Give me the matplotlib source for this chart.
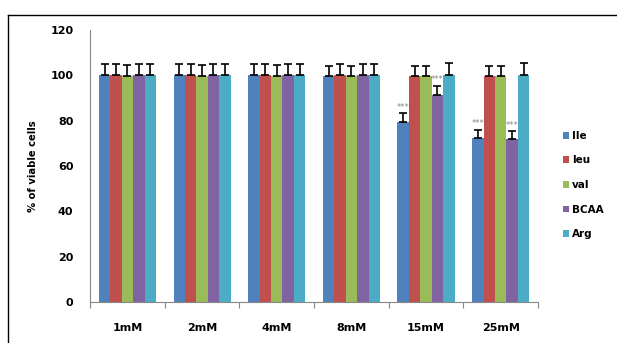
import numpy as np
import matplotlib.pyplot as plt
from matplotlib.lines import Line2D

plt.rcParams['font.family'] = ['DejaVu Sans']

categories = ['1mM', '2mM', '4mM', '8mM', '15mM', '25mM']
series = ['Ile', 'leu', 'val', 'BCAA', 'Arg']
colors = ['#4F81BD', '#C0504D', '#9BBB59', '#8064A2', '#4BACC6']

ile = [100, 100, 100, 99.5, 79.4, 72.5]
leu = [100, 100, 100, 100, 99.5, 99.5]
val = [99.6, 99.6, 99.6, 99.5, 99.5, 99.5]
bcaa = [100, 100, 100, 100, 91.2, 72.0]
arg = [100, 100, 100, 100, 100, 100]

ile_err = [5.2, 5.2, 5.2, 4.8, 3.8, 3.4]
leu_err = [5.2, 5.2, 5.2, 5.2, 4.8, 4.8]
val_err = [4.8, 4.8, 4.8, 4.8, 4.8, 4.8]
bcaa_err = [5.2, 5.2, 5.2, 5.2, 4.1, 3.3]
arg_err = [5.2, 5.2, 5.2, 5.2, 5.3, 5.3]

# significance marks: (category index, series index)
signif = [(4, 0), (4, 3), (5, 0), (5, 3)]

values = [ile, leu, val, bcaa, arg]
errors = [ile_err, leu_err, val_err, bcaa_err, arg_err]

fig = plt.figure(figsize=(6.17, 3.43), dpi=100)
ax = fig.add_axes([0.146, 0.1195, 0.726, 0.793])

x = np.arange(len(categories))
w = 0.153
for i, (name, vals, errs) in enumerate(zip(series, values, errors)):
    pos = x + (i - 2) * w
    ax.bar(pos, vals, width=w, color=colors[i], label=name, zorder=2)
    ax.errorbar(pos, vals, yerr=[np.zeros(len(errs)), errs], fmt='none',
                ecolor='black', elinewidth=1.2, capsize=2.6, capthick=1.2, zorder=3)

for c, s in signif:
    top = values[s][c] + errors[s][c]
    ax.text(x[c] + (s - 2) * w, top + 0.8, '***', ha='center', va='bottom',
            fontsize=6, color='#888888')

ax.set_xlim(-0.5, len(categories) - 0.5)
ax.set_ylim(0, 120)
ax.set_yticks(range(0, 121, 20))
ax.set_xticks(np.arange(-0.5, len(categories), 1.0))
ax.set_xticklabels([])
ax.set_xticks(x, minor=True)
ax.set_xticklabels(categories, minor=True, fontsize=8, fontweight='bold')
ax.tick_params(axis='x', which='major', length=4, direction='out', color='#888888')
ax.tick_params(axis='x', which='minor', length=0, pad=15)
ax.tick_params(axis='y', length=0, pad=12, labelsize=8)
for lab in ax.get_yticklabels():
    lab.set_fontweight('bold')

ax.set_ylabel('% of viable cells', fontsize=7.2, fontweight='bold', labelpad=9)
for sp in ['top', 'right']:
    ax.spines[sp].set_visible(False)
ax.spines['left'].set_color('#888888')
ax.spines['bottom'].set_color('#888888')

leg = ax.legend(loc='center left', bbox_to_anchor=(1.035, 0.43), frameon=False,
                fontsize=7.5, handlelength=0.6, handleheight=0.6,
                handletextpad=0.25, labelspacing=1.4)
for t in leg.get_texts():
    t.set_fontweight('bold')

# outer frame
fig.add_artist(Line2D([8 / 617, 1.0], [1 - 15 / 343, 1 - 15 / 343],
                      transform=fig.transFigure, color='black', lw=1))
fig.add_artist(Line2D([8 / 617, 8 / 617], [0.0, 1 - 15 / 343],
                      transform=fig.transFigure, color='black', lw=1))

fig.savefig('out.png', dpi=100)
